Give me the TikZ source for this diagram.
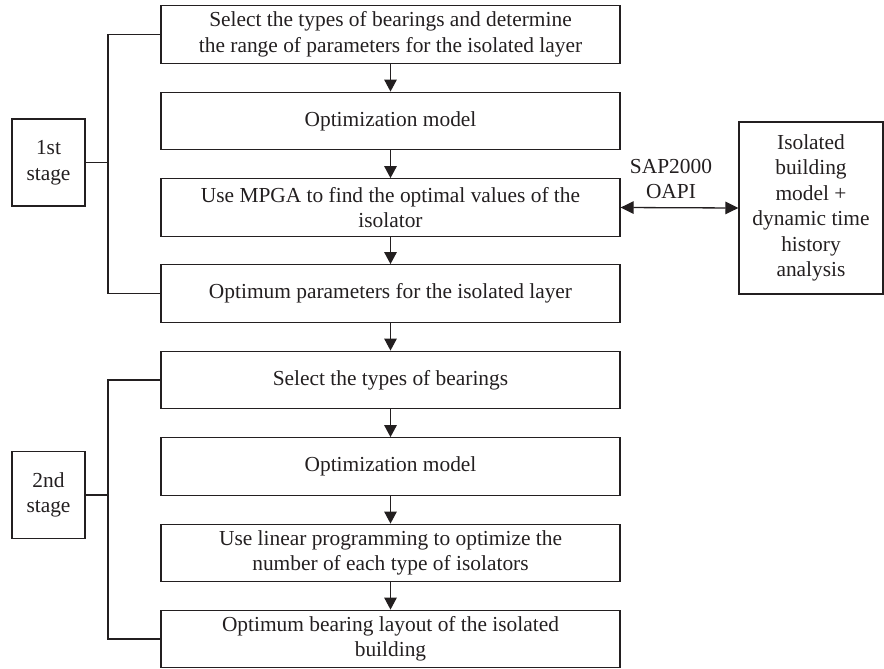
\documentclass[tikz,border=0pt]{standalone}
\usepackage{fontspec}
\setmainfont{Liberation Serif}
\usetikzlibrary{arrows.meta}
\definecolor{ink}{RGB}{35,31,32}
\begin{document}
\begin{tikzpicture}[x=1pt,y=-1pt,
  every node/.style={text=ink},
  txt/.style={font=\fontsize{21.4}{25.5}\selectfont},
  box/.style={draw=ink, line width=1.3pt, minimum width=459pt, minimum height=57.5pt, align=center, inner sep=0pt, txt},
  stagebox/.style={draw=ink, line width=1.3pt, minimum width=73pt, minimum height=87pt, align=center, inner sep=0pt, txt},
  conn/.style={draw=ink, line width=1.3pt},
  arr/.style={conn, -{Triangle[length=12pt,width=12.5pt]}},
  dblarr/.style={conn, {Triangle[length=13pt,width=12.5pt]}-{Triangle[length=13pt,width=12.5pt]}}
]
\useasboundingbox (0,0) rectangle (884,669);
\node[box] (b1) at (390.5,34.5) {Select the types of bearings and determine\\the range of parameters for the isolated layer};
\node[box] (b2) at (390.5,121) {Optimization model};
\node[box] (b3) at (390.5,207.5) {Use MPGA to find the optimal values of the\\isolator};
\node[box] (b4) at (390.5,293.5) {Optimum parameters for the isolated layer};
\node[box] (b5) at (390.5,380) {Select the types of bearings};
\node[box] (b6) at (390.5,466.5) {Optimization model};
\node[box] (b7) at (390.5,553) {Use linear programming to optimize the\\number of each type of isolators};
\node[box] (b8) at (390.5,639) {Optimum bearing layout of the isolated\\building};

\node[stagebox] (s1) at (48.5,162.5) {1st\\stage};
\node[stagebox] (s2) at (48.5,495) {2nd\\stage};

\node[draw=ink, line width=1.3pt, minimum width=144pt, minimum height=172pt, align=center, inner sep=0pt, txt] (iso) at (811,208)
  {Isolated\\building\\model +\\dynamic time\\history\\analysis};
\node[txt, align=center, inner sep=0pt] (lbl) at (671,179) {SAP2000\\OAPI};

\foreach \a/\b in {b1/b2,b2/b3,b3/b4,b4/b5,b5/b6,b6/b7,b7/b8}
  \draw[arr] (\a) -- (\b);
\draw[dblarr] (b3.east) -- (iso.west);

\coordinate (k1) at (108,0);
\draw[conn] (b1.west) -| (k1 |- b4.west) -- (b4.west);
\draw[conn] (s1.east) -- (k1 |- s1.east);
\draw[conn] (b5.west) -| (k1 |- b8.west) -- (b8.west);
\draw[conn] (s2.east) -- (k1 |- s2.east);
\end{tikzpicture}
\end{document}
